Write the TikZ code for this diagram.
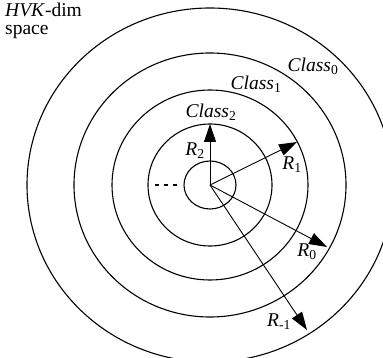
\documentclass[tikz,border=0pt]{standalone}
\usepackage{fontspec}
\setmainfont{Liberation Serif}
\usetikzlibrary{arrows.meta}
\tikzset{
  ring/.style ={line width=1.1pt},
  rad/.style  ={-{Triangle[length=18pt,width=12pt]},line width=0.9pt},
  lbl/.style  ={inner sep=0pt,font=\fontsize{19.5}{18}\selectfont},
}
\begin{document}
\begin{tikzpicture}[x=1pt,y=-1pt]
  \useasboundingbox (0,0) rectangle (383,358);
  \coordinate (o) at (210,185);
  % rings, inner to outer
  \draw[ring] (o) ellipse [x radius=26pt,y radius=24pt];
  \draw[ring] (o) ellipse [x radius=62pt,y radius=61pt];
  \draw[ring] (o) ellipse [x radius=98pt,y radius=95pt];
  \draw[ring] (o) ellipse [x radius=136pt,y radius=132pt];
  \draw[ring] (o) ellipse [x radius=183pt,y radius=177pt];
  % radii
  \coordinate (t2) at (210,124);
  \coordinate (t1) at (297,142);
  \coordinate (t0) at (327,247);
  \coordinate (tm) at (307,330);
  \draw[rad] (o) -- (t2);
  \draw[rad] (o) -- (t1);
  \draw[rad] (o) -- (t0);
  \draw[rad] (o) -- (tm);
  % dashes left of the inner ring
  \coordinate (d1) at (155,185);
  \coordinate (d2) at (180,185);
  \draw[line width=2pt,dash pattern=on 4pt off 5pt] (d1) -- (d2);
  % labels
  \node[lbl,align=left,anchor=north west] (sp) at (5,3) {\textit{HVK}-dim\\space};
  \node[lbl] (c0) at (313,66) {\textit{Class}\textsubscript{0}};
  \node[lbl] (c1) at (256,84) {\textit{Class}\textsubscript{1}};
  \node[lbl] (c2) at (211,112) {\textit{Class}\textsubscript{2}};
  \node[lbl] (r2) at (195,151) {\textit{R}\textsubscript{2}};
  \node[lbl] (r1) at (292,165) {\textit{R}\textsubscript{1}};
  \node[lbl] (r0) at (307,252) {\textit{R}\textsubscript{0}};
  \node[lbl] (rm) at (279,322) {\textit{R}\textsubscript{-1}};
\end{tikzpicture}
\end{document}
